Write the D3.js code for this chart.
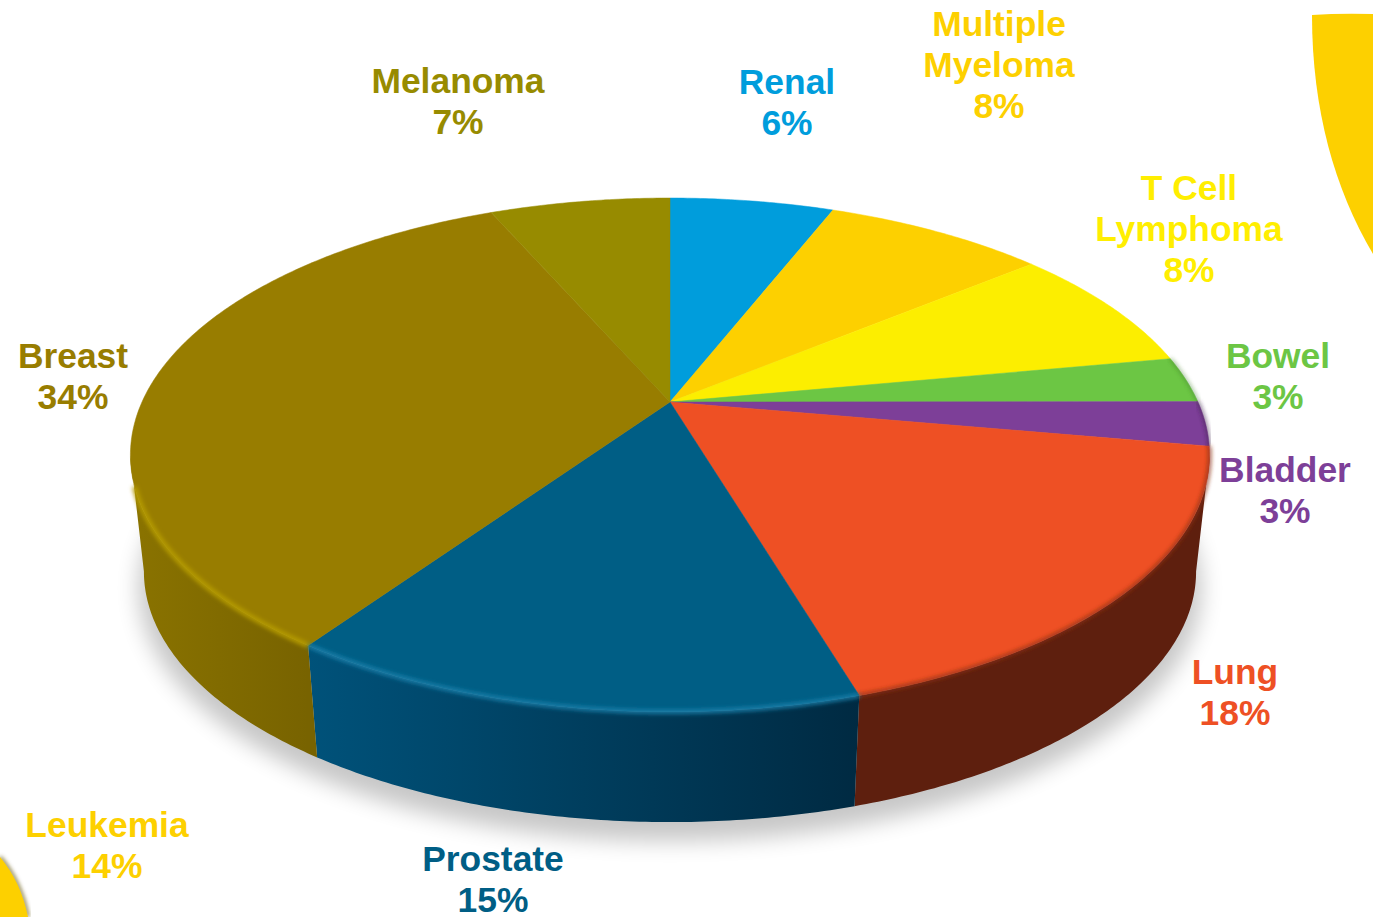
<!DOCTYPE html>
<html>
<head>
<meta charset="utf-8">
<script src="https://cdn.jsdelivr.net/npm/d3@7"></script>
<style>
  html, body { margin: 0; padding: 0; background: #fff; }
  svg { display: block; }
  text { font-family: "Liberation Sans", Arial, sans-serif; font-weight: bold; font-size: 35.4px; text-anchor: middle; }
</style>
</head>
<body>
<div id="chart"></div>
<script>
// share of the pie as drawn, clockwise from 12 o'clock
var categories = ["Renal", "Multiple Myeloma", "T Cell Lymphoma", "Bowel", "Bladder", "Lung", "Prostate", "Breast", "Melanoma"];
var shares = [6.0, 8.1, 8.0, 2.9, 2.8, 17.6, 14.3, 33.8, 6.6];
var percentLabels = ["6%", "8%", "8%", "3%", "3%", "18%", "15%", "34%", "7%"];
// printed on the slide but has no slice of its own
var extraCategory = "Leukemia";
var extraLabel = "14%";

var topColors = ["#009ddc", "#fdd000", "#fcee00", "#6cc644", "#7d3f98", "#ee5024", "#005e85", "#987d00", "#978b00"];
var textColors = ["#009ddc", "#fdd000", "#ffee00", "#6cc644", "#7d3f98", "#ee5024", "#005e85", "#987d00", "#978b00"];
var wallLeft = ["#004a66", "#7f6000", "#7f7700", "#36632a", "#3e204c", "#5e1f0e", "#00527a", "#8a7300", "#4c4600"];
var wallRight = ["#004a66", "#7f6000", "#7f7700", "#36632a", "#3e204c", "#5e1f0e", "#002a42", "#786300", "#4c4600"];
var rimColors = [null, null, null, "#3d7a2a", "#3e204c", "#8a2f14", "#1a82ad", "#b59b00", null];
var rimWidths = [0, 0, 0, 1.5, 2, 3, 4, 5, 0];

// label position per category: centre x, first baseline
var labelSpots = [[787, 94], [999, 36], [1189, 200], [1278, 368], [1285, 482], [1235, 684], [493, 871], [73, 368], [458, 93]];
var extraSpot = [107, 837];

var width = 1373, height = 917;
var apexX = 670, apexY = 402;
var radiusX = 528, radiusY = 246, persp = 0.206;
var wallDrop = 118, wallScale = 0.975;
var tau = 2 * Math.PI;
// angles where the side of the disc turns out of sight
var frontStart = Math.acos(-persp), frontEnd = tau - frontStart;

var svg = d3.select("#chart").append("svg")
  .attr("width", width)
  .attr("height", height)
  .attr("viewBox", "0 0 " + width + " " + height);

var defs = svg.append("defs");
defs.append("filter").attr("id", "shadow-blur")
  .attr("x", "-10%").attr("y", "-10%").attr("width", "120%").attr("height", "120%")
  .append("feGaussianBlur").attr("stdDeviation", 11);
defs.append("filter").attr("id", "rim-blur")
  .attr("x", "-10%").attr("y", "-10%").attr("width", "120%").attr("height", "120%")
  .append("feGaussianBlur").attr("stdDeviation", 2);

// disc lies flat in perspective, so the centre sits above the middle of the ellipse
function project(angle, radius, drop, scale) {
  var u = Math.sin(angle) * radius, v = Math.cos(angle) * radius;
  var w = 1 + persp * v;
  return [apexX + scale * radiusX * u / w, apexY + drop - scale * radiusY * v / w];
}

function arcPoints(a0, a1, drop, scale) {
  var n = Math.max(2, Math.ceil((a1 - a0) / 0.01));
  return d3.range(n + 1).map(function(i) {
    return project(a0 + (a1 - a0) * i / n, 1, drop, scale);
  });
}

var line = d3.line().curve(d3.curveLinear);
var pie = d3.pie().sort(null).value(function(d) { return d; });
var slices = pie(shares);

// soft shadow under the disc
svg.append("path")
  .attr("d", line(arcPoints(0, tau, wallDrop + 16, wallScale * 1.01)) + "Z")
  .attr("fill", "#000")
  .attr("opacity", 0.22)
  .attr("filter", "url(#shadow-blur)");

// corner decorations
var cornerTop = d3.path();
cornerTop.moveTo(1312, 15);
cornerTop.quadraticCurveTo(1340, 13, 1373, 14);
cornerTop.lineTo(1373, 254);
cornerTop.bezierCurveTo(1335, 190, 1312, 110, 1312, 15);
cornerTop.closePath();
svg.append("path").attr("d", cornerTop.toString()).attr("fill", "#fdd000");

var cornerBottom = d3.path();
cornerBottom.moveTo(0, 857);
cornerBottom.quadraticCurveTo(21, 882, 28, 917);
svg.append("path").attr("d", cornerBottom.toString())
  .attr("fill", "none")
  .attr("stroke", "#5c4e10")
  .attr("stroke-width", 2.5)
  .attr("filter", "url(#rim-blur)");
svg.append("path").attr("d", cornerBottom.toString() + "L0,917Z").attr("fill", "#fdd000");

// only the part of the wall facing the viewer
var wallSlices = slices.map(function(s) {
  return { index: s.index, a0: Math.max(s.startAngle, frontStart), a1: Math.min(s.endAngle, frontEnd) };
}).filter(function(s) { return s.a1 > s.a0; });

wallSlices.forEach(function(s) {
  var pts = arcPoints(s.a0, s.a1, 0, 1);
  var xs = d3.extent(pts, function(p) { return p[0]; });
  var g = defs.append("linearGradient").attr("id", "wall-" + s.index)
    .attr("gradientUnits", "userSpaceOnUse")
    .attr("x1", xs[0]).attr("x2", xs[1]).attr("y1", 0).attr("y2", 0);
  g.append("stop").attr("offset", 0).attr("stop-color", wallLeft[s.index]);
  g.append("stop").attr("offset", 1).attr("stop-color", wallRight[s.index]);
});

svg.append("g").selectAll("path")
  .data(wallSlices)
  .enter().append("path")
    .attr("d", function(d) {
      var upper = arcPoints(d.a0, d.a1, 0, 1);
      var lower = arcPoints(d.a0, d.a1, wallDrop, wallScale).reverse();
      return line(upper.concat(lower)) + "Z";
    })
    .attr("fill", function(d) { return "url(#wall-" + d.index + ")"; });

// top face
svg.append("g").selectAll("path")
  .data(slices)
  .enter().append("path")
    .attr("d", function(d) {
      return line([[apexX, apexY]].concat(arcPoints(d.startAngle, d.endAngle, 0, 1))) + "Z";
    })
    .attr("fill", function(d, i) { return topColors[i]; })
    .attr("stroke", function(d, i) { return topColors[i]; })
    .attr("stroke-width", 0.5);

// bevel along the visible rim, breast stops a little before the disc turns away
var rimSlices = slices.filter(function(d) { return rimColors[d.index]; });
svg.append("g").selectAll("path")
  .data(rimSlices)
  .enter().append("path")
    .attr("d", function(d) {
      return line(arcPoints(d.startAngle, Math.min(d.endAngle, frontEnd - 0.12), 0, 1));
    })
    .attr("fill", "none")
    .attr("stroke", function(d) { return rimColors[d.index]; })
    .attr("stroke-width", function(d) { return rimWidths[d.index]; })
    .attr("filter", "url(#rim-blur)");

// labels
var lineGap = 41;
var labels = svg.append("g").selectAll("text")
  .data(categories)
  .enter().append("text")
    .attr("fill", function(d, i) { return textColors[i]; });

labels.each(function(d, i) {
  var rows = d.split(/ (?=Myeloma|Lymphoma)/).concat([percentLabels[i]]);
  d3.select(this).selectAll("tspan")
    .data(rows)
    .enter().append("tspan")
      .attr("x", labelSpots[i][0])
      .attr("y", function(r, j) { return labelSpots[i][1] + j * lineGap; })
      .text(function(r) { return r; });
});

var extra = svg.append("text").attr("fill", "#fdd000");
[extraCategory, extraLabel].forEach(function(r, j) {
  extra.append("tspan")
    .attr("x", extraSpot[0])
    .attr("y", extraSpot[1] + j * lineGap)
    .text(r);
});
</script>
</body>
</html>
